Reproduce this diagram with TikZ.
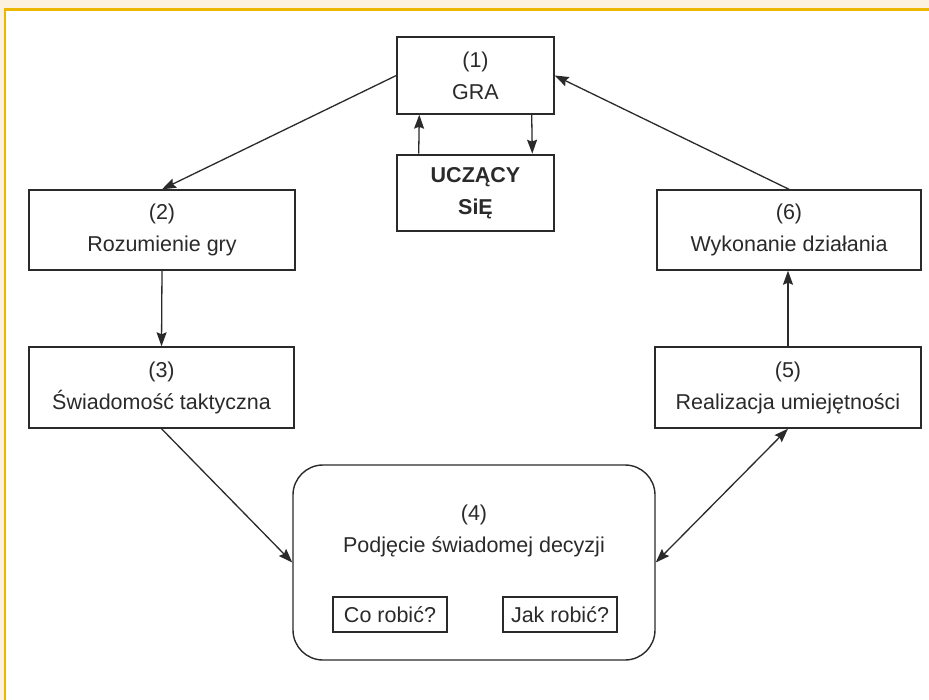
\documentclass[tikz,border=0pt]{standalone}
\usepackage{fontspec}
\setmainfont{Liberation Sans}
\usetikzlibrary{arrows.meta,calc}
\definecolor{cream}{HTML}{FCF1DF}
\definecolor{gold}{HTML}{EDB600}
\definecolor{ink}{HTML}{2A2A2A}
\tikzset{
  box/.style={draw=ink, line width=1.4pt, fill=white, inner sep=0pt, align=center, text=ink},
  txt/.style={inner sep=0pt, align=center, text=ink},
  arr/.style={draw=ink, line width=1.3pt, -{Stealth[length=14pt,width=10pt,inset=2pt]}},
  darr/.style={draw=ink, line width=1.3pt, {Stealth[length=14pt,width=10pt,inset=2pt]}-{Stealth[length=14pt,width=10pt,inset=2pt]}}
}
\begin{document}
\begin{tikzpicture}[x=1pt,y=-1pt,font=\fontsize{21.5}{25}\selectfont]
\useasboundingbox (0,0) rectangle (929,700);
\fill[cream] (0,0) rectangle (929,700);
\fill[white] (5,10) rectangle (929,700);
\draw[gold, line width=3pt] (4,9.5) -- (929,9.5);
\draw[gold, line width=2pt] (5,9) -- (5,700);

\node[box, minimum width=157pt, minimum height=77pt] (b1) at (475.5,75.5) {(1)\\[7pt]GRA};
\node[box, line width=2.6pt, minimum width=157pt, minimum height=76pt, font=\fontsize{21.5}{25}\selectfont\bfseries] (u) at (475.5,193) {UCZĄCY\\[7pt]SiĘ};
\node[box, minimum width=266pt, minimum height=80pt] (b2) at (162,230) {(2)\\[7pt]Rozumienie gry};
\node[box, minimum width=265pt, minimum height=81pt] (b3) at (161.5,387.5) {(3)\\[7pt]Świadomość taktyczna};
\node[box, rounded corners=30pt, minimum width=362pt, minimum height=195pt] (b4) at (474,562.5) {};
\node[txt] (t4) at (474,531) {(4)\\[7pt]Podjęcie świadomej decyzji};
\node[box, minimum width=114pt, minimum height=35pt] (co) at (390,614.5) {Co robić?};
\node[box, minimum width=114pt, minimum height=35pt] (jak) at (560,614.5) {Jak robić?};
\node[box, minimum width=266pt, minimum height=81pt] (b5) at (788,387.5) {(5)\\[7pt]Realizacja umiejętności};
\node[box, minimum width=264pt, minimum height=80pt] (b6) at (789,230) {(6)\\[7pt]Wykonanie działania};

\draw[arr] (b1.west) -- (b2.north);
\draw[arr] ($(u.north west)+(23pt,0pt)$) -- ($(b1.south west)+(23pt,0pt)$);
\draw[arr] ($(b1.south east)+(-23pt,0pt)$) -- ($(u.north east)+(-23pt,0pt)$);
\draw[arr] (b2.south) -- (b3.north);
\draw[arr] (b3.south) -- (b4.west);
\draw[darr] (b4.east) -- (b5.south);
\draw[arr] (b5.north) -- (b5.north |- b6.south);
\draw[arr] (b6.north) -- (b1.east);
\end{tikzpicture}
\end{document}
